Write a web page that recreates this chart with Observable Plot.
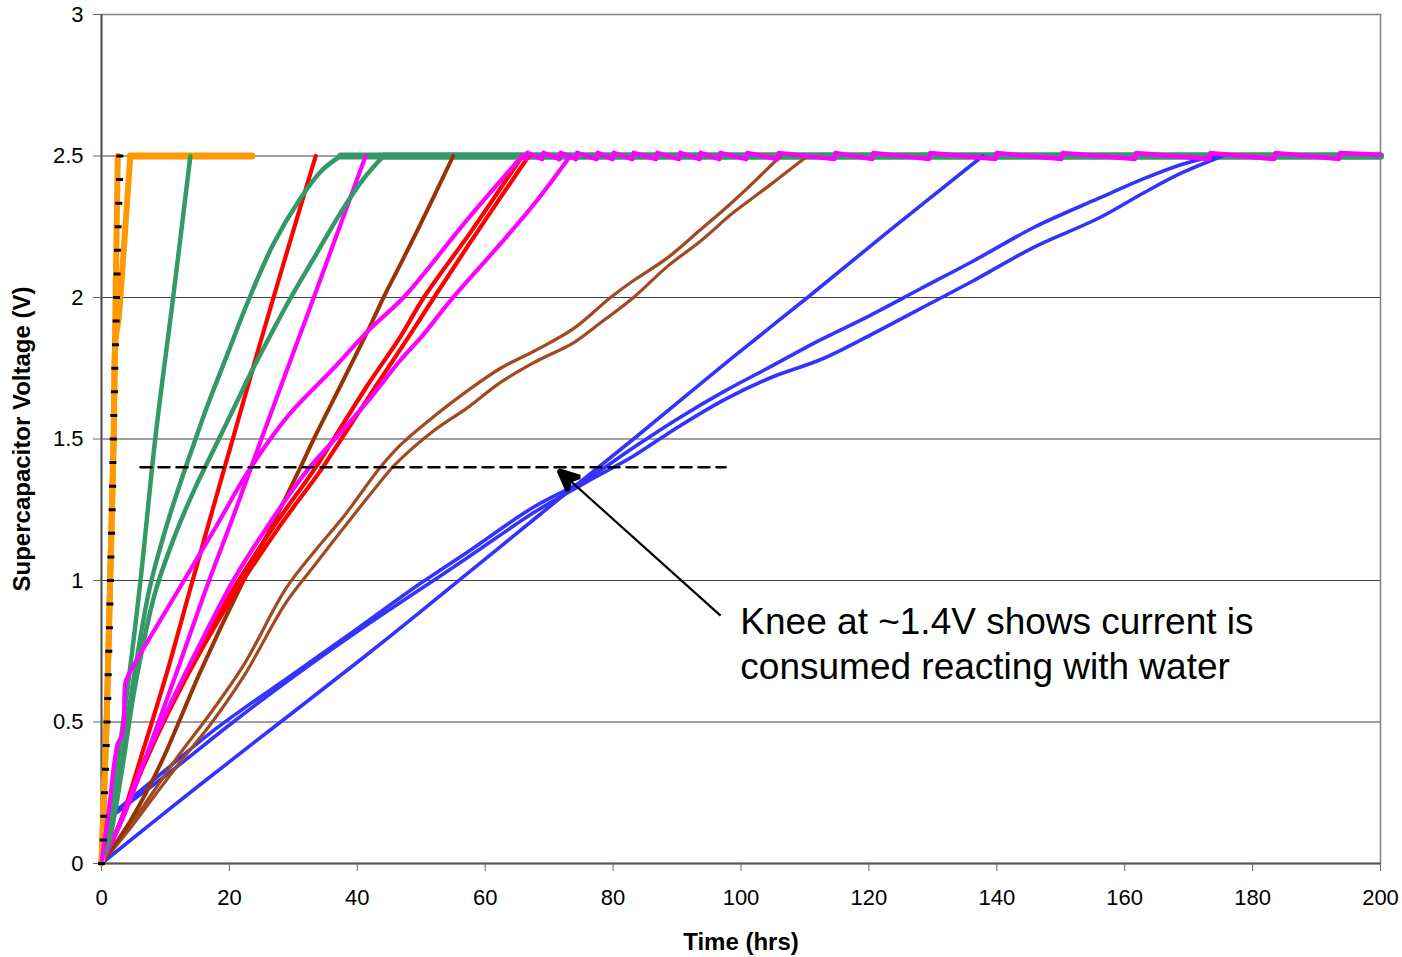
<!DOCTYPE html>
<html>
<head>
<meta charset="utf-8">
<script src="https://cdn.jsdelivr.net/npm/d3@7"></script>
<script src="https://cdn.jsdelivr.net/npm/@observablehq/plot@0.6"></script>
<style>
  body { margin: 0; background: #fff; }
  #chart svg { display: block; }
</style>
</head>
<body>
<div id="chart"></div>
<script>
// ---------- axis ticks ----------
const xTicks = [0, 20, 40, 60, 80, 100, 120, 140, 160, 180, 200];
const yTicks = [0, 0.5, 1, 1.5, 2, 2.5, 3];
const yGrid = [0.5, 1, 1.5, 2, 2.5];
const xLabel = "Time (hrs)";
const yLabel = "Supercapacitor Voltage (V)";
const fullCharge = 2.5;

// ---------- black dotted reference series (markers) ----------
const dotT = [0, 0.27, 0.36, 0.47, 0.62, 0.73, 0.87, 0.98, 1.05, 1.14, 1.24, 1.31, 1.40, 1.46, 1.58, 1.66, 1.74, 1.78, 1.84, 1.92, 2.02, 2.08, 2.18, 2.28, 2.35, 2.44, 2.50, 2.60, 2.70, 2.82, 2.86];
const dotV = [0, 0.083, 0.167, 0.25, 0.333, 0.417, 0.5, 0.583, 0.667, 0.75, 0.833, 0.917, 1.0, 1.083, 1.167, 1.25, 1.333, 1.417, 1.5, 1.583, 1.667, 1.75, 1.833, 1.917, 2.0, 2.083, 2.167, 2.25, 2.333, 2.417, 2.5];

// ---------- orange ----------
const orangeA_t = [0, 0.15, 0.4, 0.8, 1.35, 1.9, 2.2, 2.55];
const orangeA_v = [0, 0.09, 0.25, 0.5, 1.0, 1.5, 2.0, 2.5];
const orangeB_t = [0, 0.15, 0.4, 0.8, 1.35, 1.9, 2.2, 2.7, 2.95, 4.5, 23.5];
const orangeB_v = [0, 0.09, 0.25, 0.5, 1.0, 1.5, 1.85, 1.93, 2.0, 2.5, 2.5];

// ---------- green ----------
const greenA_t = [0, 1.0, 4.3, 6.1, 8.4, 11.2, 13.9];
const greenA_v = [0, 0.12, 0.66, 1.0, 1.5, 2.0, 2.5];
const greenB_t = [0, 1.3, 3.0, 4.8, 7.5, 10.0, 12.4, 14.4, 16.6, 19.7, 22.8, 26.9, 31.1, 34.5, 37.4, 200];
const greenB_v = [0, 0.1, 0.33, 0.62, 0.97, 1.18, 1.35, 1.48, 1.62, 1.8, 1.98, 2.19, 2.35, 2.45, 2.5, 2.5];
const greenC_t = [0, 1.4, 3.2, 5.2, 8.3, 11.5, 14.7, 17.5, 20.5, 23.5, 26.5, 29.6, 33.5, 37.4, 41.0, 44.1, 200];
const greenC_v = [0, 0.1, 0.33, 0.62, 0.95, 1.16, 1.33, 1.46, 1.6, 1.74, 1.87, 2.0, 2.15, 2.3, 2.42, 2.5, 2.5];

// ---------- red ----------
const redA_t = [0, 3, 6.1, 10.3, 14, 18.5, 20.4, 23.8, 26.9, 31.1, 33.5];
const redA_v = [0, 0.15, 0.37, 0.68, 0.98, 1.34, 1.49, 1.76, 2.0, 2.32, 2.5];
const redB_t = [0, 3.0, 6.1, 10.3, 15.5, 20.6, 26.9, 33.2, 36.3, 41.6, 46.7, 50.4, 58, 65.8, 200];
const redB_v = [0, 0.15, 0.33, 0.54, 0.77, 0.97, 1.19, 1.39, 1.5, 1.69, 1.86, 2.0, 2.24, 2.5, 2.5];
const redC_t = [0, 3.1, 6.3, 10.6, 16, 21.3, 27.8, 34.3, 37.5, 43, 48, 52, 59, 66.8, 200];
const redC_v = [0, 0.15, 0.33, 0.54, 0.77, 0.97, 1.19, 1.39, 1.5, 1.69, 1.86, 2.0, 2.24, 2.5, 2.5];

// ---------- magenta ----------
const magentaA_t = [0, 1.2, 2.5, 3.3, 3.75, 4.3, 7.1, 10.8, 12.9, 17.9, 22.8, 29.1, 36.3, 41.6, 46.8, 49.9, 57, 65.8,
  66.4, 66.6, 68.9, 69.1, 71.6, 71.8, 74.2, 74.4, 77.4, 77.6, 79.9, 80.1, 83.0, 83.2, 86.7, 86.9, 90.3, 90.5,
  93.5, 93.7, 96.6, 96.8, 100.8, 101.0, 105.7, 105.9, 114.6, 114.8, 120.5, 120.7, 129.4, 129.6, 139.8, 140.0,
  150.1, 150.3, 161.6, 161.8, 173.2, 173.4, 183.4, 183.6, 193.5, 193.7, 200];
const magentaA_v = [0, 0.2, 0.42, 0.46, 0.64, 0.67, 0.78, 0.92, 1.0, 1.19, 1.38, 1.58, 1.75, 1.88, 1.99, 2.07, 2.27, 2.5,
  2.489, 2.511, 2.489, 2.511, 2.489, 2.511, 2.489, 2.511, 2.489, 2.511, 2.489, 2.511, 2.489, 2.511, 2.489, 2.511, 2.489, 2.511,
  2.489, 2.511, 2.489, 2.511, 2.489, 2.511, 2.489, 2.511, 2.489, 2.511, 2.489, 2.511, 2.489, 2.511, 2.489, 2.511,
  2.489, 2.511, 2.489, 2.511, 2.489, 2.511, 2.489, 2.511, 2.489, 2.511, 2.504];
const magentaB_t = [0, 3.5, 7, 11.5, 16.5, 20.5, 25, 29.1, 33.2, 37.4, 41.3];
const magentaB_v = [0, 0.17, 0.38, 0.66, 0.98, 1.22, 1.5, 1.75, 2.0, 2.26, 2.5];
const magentaC_t = [0, 3, 6.1, 10.3, 15.5, 20.6, 26.5, 32.2, 36.5, 41.5, 46.8, 50, 54.6, 62.4, 68, 73.3, 200];
const magentaC_v = [0, 0.15, 0.33, 0.54, 0.78, 1.0, 1.21, 1.39, 1.5, 1.63, 1.78, 1.86, 1.99, 2.19, 2.34, 2.5, 2.5];

// ---------- brown ----------
const brownA_t = [0, 4.5, 9.2, 15.5, 22.2, 27, 31.1, 33.2, 36.3, 41.6, 44.1, 46.8, 49.9, 55];
const brownA_v = [0, 0.15, 0.35, 0.68, 1.0, 1.21, 1.4, 1.5, 1.64, 1.88, 2.0, 2.12, 2.26, 2.5];
const brownB_t = [0, 4, 8, 12, 17, 22.2, 28.8, 33.2, 38, 43.6, 46.8, 52, 57.2, 62.4, 67.6, 73.8, 79.6, 83.2, 88.5, 93.7, 98.8, 106.2, 200];
const brownB_v = [0, 0.12, 0.25, 0.38, 0.53, 0.7, 0.97, 1.1, 1.23, 1.4, 1.48, 1.58, 1.67, 1.75, 1.81, 1.89, 2.0, 2.06, 2.14, 2.24, 2.34, 2.5, 2.5];
const brownC_t = [0, 4, 8, 12, 17, 22.2, 28.8, 33.2, 38, 45.5, 46.8, 52, 57.2, 62.4, 67.6, 73.8, 78, 83.2, 88.5, 93.7, 98.8, 104.1, 110.4, 200];
const brownC_v = [0, 0.11, 0.23, 0.35, 0.49, 0.66, 0.92, 1.05, 1.19, 1.4, 1.43, 1.53, 1.61, 1.7, 1.77, 1.84, 1.91, 2.0, 2.11, 2.2, 2.3, 2.39, 2.5, 2.5];

// ---------- blue ----------
const blueA_t = [0, 15.5, 28, 40.5, 49.9, 62.4, 72.2, 83.2, 98.8, 110.4, 123.4, 137.8, 200];
const blueA_v = [0, 0.28, 0.5, 0.72, 0.89, 1.12, 1.3, 1.5, 1.79, 2.0, 2.24, 2.5, 2.5];
const blueB_t = [0, 0.5, 3, 10, 18.1, 30, 40, 49.9, 57.2, 67.6, 76, 83.2, 90, 97.5, 105, 112.4, 119.6, 128, 136.4, 146, 155.9, 163, 168.9, 174, 200];
const blueB_v = [0, 0.15, 0.2, 0.33, 0.48, 0.67, 0.83, 0.99, 1.1, 1.26, 1.36, 1.47, 1.57, 1.67, 1.76, 1.85, 1.93, 2.03, 2.13, 2.25, 2.35, 2.42, 2.47, 2.5, 2.5];
const blueC_t = [0, 0.5, 3, 10, 20.6, 30, 40, 49.9, 57.2, 67.6, 76, 83.2, 90, 97.5, 105, 112.4, 119.6, 128, 136.4, 146, 155.9, 163, 168.9, 175.3, 200];
const blueC_v = [0, 0.14, 0.19, 0.31, 0.5, 0.66, 0.82, 0.97, 1.08, 1.24, 1.35, 1.44, 1.54, 1.64, 1.72, 1.78, 1.86, 1.96, 2.06, 2.18, 2.28, 2.37, 2.44, 2.5, 2.5];

// ---------- annotation ----------
const kneeV = [1.4];
const kneeT = [6.1, 97.6];
const noteText = ["Knee at ~1.4V shows current is\nconsumed reacting with water"];
const noteT = [99.9];
const noteV = [0.782];
const arrowFromT = [96.8], arrowFromV = [0.876];
const arrowToT = [71.5], arrowToV = [1.389];

// ---------- build tables ----------
function series(id, t, v) { return t.map((x, i) => ({id, t: x, v: v[i]})); }
// split a series into its charging part and its part held at full charge
function split(rows) {
  const i = rows.findIndex(d => d.v >= fullCharge);
  if (i < 0 || i === rows.length - 1) return [rows, []];
  return [rows.slice(0, i + 1), rows.slice(i)];
}
function group(list) {
  const rise = [], hold = [];
  for (const rows of list) { const [a, b] = split(rows); rise.push(...a); hold.push(...b); }
  return {rise, hold};
}
const orange = group([series("oA", orangeA_t, orangeA_v), series("oB", orangeB_t, orangeB_v)]);
const green = group([series("gA", greenA_t, greenA_v), series("gB", greenB_t, greenB_v), series("gC", greenC_t, greenC_v)]);
const red = group([series("rA", redA_t, redA_v), series("rB", redB_t, redB_v), series("rC", redC_t, redC_v)]);
const magentaMain = group([series("mA", magentaA_t, magentaA_v)]);
const magentaOther = group([series("mB", magentaB_t, magentaB_v), series("mC", magentaC_t, magentaC_v)]);
const brownThick = group([series("bA", brownA_t, brownA_v)]);
const brownThin = group([series("bB", brownB_t, brownB_v), series("bC", brownC_t, brownC_v)]);
const blue = group([series("uA", blueA_t, blueA_v), series("uB", blueB_t, blueB_v), series("uC", blueC_t, blueC_v)]);
const dots = series("dot", dotT, dotV);
const knee = kneeT.map(t => ({t, v: kneeV[0]}));
const note = noteText.map((text, i) => ({text, t: noteT[i], v: noteV[i]}));
const arrow = [{t1: arrowFromT[0], v1: arrowFromV[0], t2: arrowToT[0], v2: arrowToV[0]}];

const dashSymbol = {
  draw(ctx, size) { const r = Math.sqrt(size / Math.PI); ctx.moveTo(-r, 0); ctx.lineTo(r, 0); }
};

function filledArrow(color) {
  return d3.create("svg:marker")
    .attr("viewBox", "-11 -6 12 12")
    .attr("markerUnits", "userSpaceOnUse")
    .attr("markerWidth", 24)
    .attr("markerHeight", 24)
    .attr("refX", 0)
    .attr("refY", 0)
    .attr("orient", "auto")
    .attr("fill", color)
    .call(m => m.append("path").attr("d", "M0,0L-10,-4.6L-7.5,0L-10,4.6Z"))
    .node();
}

const riseOpts = (color, w) => ({x: "t", y: "v", z: "id", stroke: color, strokeWidth: w, curve: "catmull-rom"});
const holdOpts = (color, w) => ({x: "t", y: "v", z: "id", stroke: color, strokeWidth: w, curve: "linear"});

function build(useMarker) {
  return Plot.plot({
    width: 1402,
    height: 957,
    marginLeft: 101,
    marginRight: 22,
    marginTop: 14,
    marginBottom: 94,
    style: {fontFamily: "'Liberation Sans', Arial, sans-serif", background: "white", color: "black"},
    x: {domain: [0, 200]},
    y: {domain: [0, 3]},
    marks: [
      Plot.gridY(yGrid, {stroke: "#000", strokeOpacity: 0.75, strokeWidth: 1}),
      Plot.frame({stroke: "#808080", strokeWidth: 1.5}),
      Plot.ruleX([0], {stroke: "#555", strokeWidth: 2}),
      Plot.ruleY([0], {stroke: "#555", strokeWidth: 2}),
      Plot.axisY(yTicks, {tickSize: 8, tickPadding: 10, tickFormat: d => String(d), fontSize: 22, label: null, stroke: "#666"}),
      Plot.axisX(xTicks, {tickSize: 8, tickPadding: 18, tickFormat: d => String(d), fontSize: 22, label: null, stroke: "#666"}),
      // held at full charge
      Plot.line(blue.hold, holdOpts("#3333FF", 4)),
      Plot.line(brownThin.hold, holdOpts("#A04A22", 4)),
      Plot.line(red.hold, holdOpts("#FF0000", 4.5)),
      Plot.line(magentaOther.hold, holdOpts("#FF00FF", 4)),
      Plot.line(green.hold, holdOpts("#339966", 7)),
      Plot.line(orange.hold, holdOpts("#FF9900", 7)),
      // charging
      Plot.line(blue.rise, riseOpts("#3333FF", 3.6)),
      Plot.line(brownThin.rise, riseOpts("#A04A22", 3.2)),
      Plot.line(brownThick.rise, riseOpts("#993300", 4)),
      Plot.line(red.rise, riseOpts("#FF0000", 4.2)),
      Plot.line(magentaOther.rise, riseOpts("#FF00FF", 4.2)),
      Plot.line(green.rise, riseOpts("#339966", 4.5)),
      Plot.line(orange.rise, riseOpts("#FF9900", 6)),
      Plot.line(magentaMain.rise, riseOpts("#FF00FF", 4.2)),
      Plot.line(magentaMain.hold, holdOpts("#FF00FF", 4.5)),
      Plot.dot(dots, {x: "t", y: "v", symbol: dashSymbol, r: 3.5, stroke: "black", strokeWidth: 3, fill: "none"}),
      Plot.line(knee, {x: "t", y: "v", stroke: "black", strokeWidth: 2.5, strokeDasharray: "11,7"}),
      useMarker
        ? Plot.link(arrow, {x1: "t1", y1: "v1", x2: "t2", y2: "v2", stroke: "black", strokeWidth: 2.2, markerEnd: filledArrow})
        : Plot.arrow(arrow, {x1: "t1", y1: "v1", x2: "t2", y2: "v2", stroke: "black", strokeWidth: 2.2, headLength: 22, headAngle: 45}),
      Plot.text(note, {x: "t", y: "v", text: "text", textAnchor: "start", lineAnchor: "middle", lineHeight: 1.2, fontSize: 37, fill: "black"}),
      Plot.text([xLabel], {frameAnchor: "bottom", dy: 79, lineAnchor: "middle", textAnchor: "middle", fontSize: 24, fontWeight: "bold", fill: "black"}),
      Plot.text([yLabel], {frameAnchor: "left", dx: -79, rotate: -90, textAnchor: "middle", lineAnchor: "middle", fontSize: 24, fontWeight: "bold", fill: "black"})
    ]
  });
}
let chart;
try { chart = build(true); } catch (e) { chart = build(false); }
document.getElementById("chart").appendChild(chart);
</script>
</body>
</html>
